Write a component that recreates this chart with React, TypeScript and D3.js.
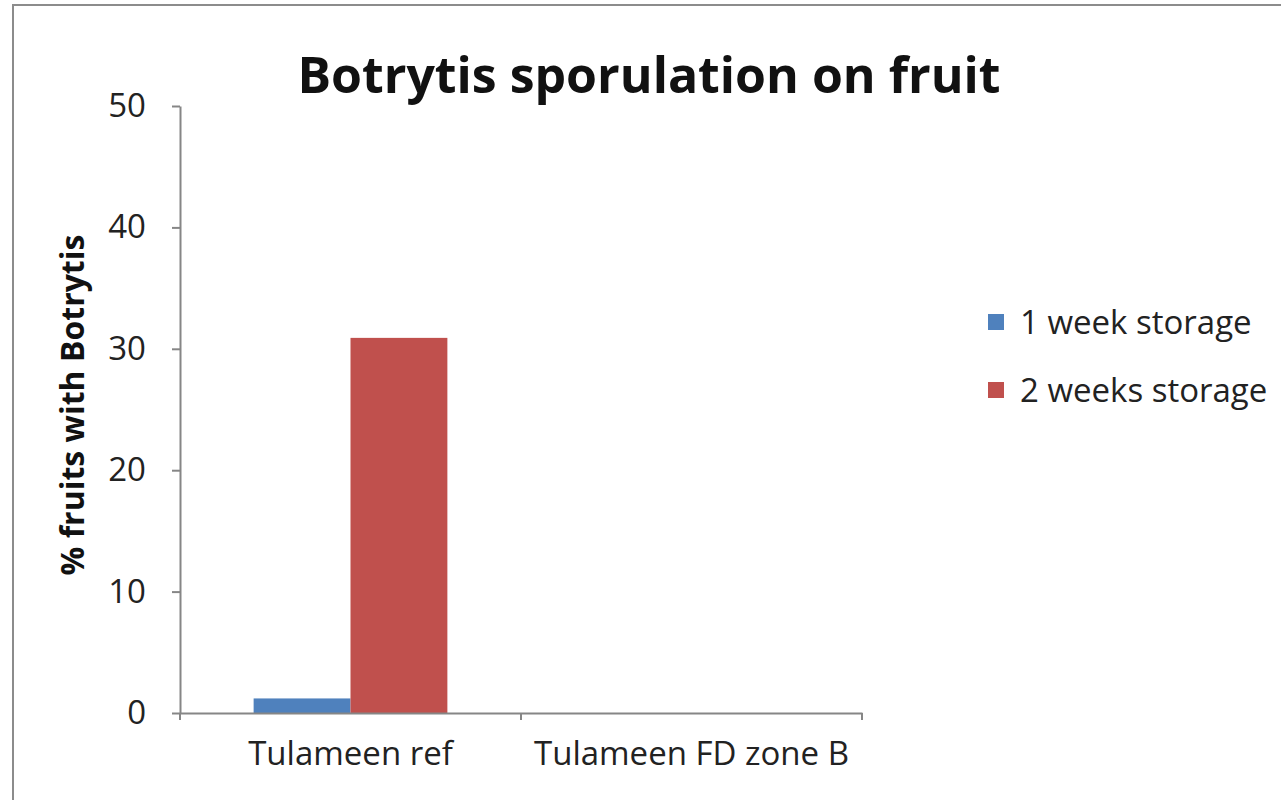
import React, { useRef, useEffect } from "react";
import * as d3 from "d3";

const categories = ["Tulameen ref", "Tulameen FD zone B"];
const seriesNames = ["1 week storage", "2 weeks storage"];
const oneWeek = [1.2, 0];
const twoWeeks = [30.9, 0];
const yTicks = [0, 10, 20, 30, 40, 50];
const colors = ["#4F81BD", "#C0504D"];

const App = () => {
  const svgRef = useRef<SVGSVGElement>(null);
  const W = 1281;
  const H = 800;

  useEffect(() => {
    const svg = d3.select(svgRef.current);
    svg.selectAll("*").remove();
    const font = "'Open Sans', sans-serif";

    // outer chart border (only top/left visible in crop)
    svg
      .append("rect")
      .attr("x", 13)
      .attr("y", 5)
      .attr("width", 1300)
      .attr("height", 820)
      .attr("fill", "#fff")
      .attr("stroke", "#8c8c8c")
      .attr("stroke-width", 2);

    const left = 180;
    const right = 862;
    const top = 106;
    const bottom = 713;

    const x0 = d3.scaleBand().domain(categories).range([left, right]).paddingInner(0).paddingOuter(0);
    const x1 = d3
      .scaleBand()
      .domain(seriesNames)
      .range([0, x0.bandwidth()])
      .paddingInner(0)
      .paddingOuter(0.76);
    const y = d3.scaleLinear().domain([0, 50]).range([bottom, top]);

    // bars
    const series = [oneWeek, twoWeeks];
    categories.forEach((c, ci) => {
      seriesNames.forEach((s, si) => {
        const v = series[si][ci];
        svg
          .append("rect")
          .attr("x", (x0(c) ?? 0) + (x1(s) ?? 0))
          .attr("y", y(v))
          .attr("width", x1.bandwidth())
          .attr("height", bottom - y(v))
          .attr("fill", colors[si]);
      });
    });

    // y axis
    const yAxis = d3
      .axisLeft(y)
      .tickValues(yTicks)
      .tickSize(8)
      .tickSizeOuter(0)
      .tickPadding(26)
      .tickFormat(d3.format("d"));
    const yg = svg.append("g").attr("transform", `translate(${left},0)`).call(yAxis);
    yg.select(".domain").attr("stroke", "#868686").attr("stroke-width", 2);
    yg.selectAll(".tick line").attr("stroke", "#868686").attr("stroke-width", 2);
    yg.selectAll(".tick text")
      .attr("font-family", font)
      .attr("font-size", 33)
      .attr("fill", "#222");

    // x axis
    const xAxis = d3.axisBottom(x0).tickSize(0).tickPadding(29);
    const xg = svg.append("g").attr("transform", `translate(0,${bottom})`).call(xAxis);
    xg.select(".domain").attr("stroke", "#868686").attr("stroke-width", 2);
    xg.selectAll(".tick text")
      .attr("font-family", font)
      .attr("font-size", 33)
      .attr("fill", "#222");
    // category boundary tick marks
    xg.selectAll(".bound")
      .data([left, right - x0.bandwidth(), right])
      .join("line")
      .attr("x1", (d) => d)
      .attr("x2", (d) => d)
      .attr("y1", 0)
      .attr("y2", 7)
      .attr("stroke", "#868686")
      .attr("stroke-width", 2);

    // title
    svg
      .append("text")
      .attr("x", 649)
      .attr("y", 93)
      .attr("text-anchor", "middle")
      .attr("font-family", font)
      .attr("font-weight", "bold")
      .attr("font-size", 50)
      .attr("fill", "#111")
      .text("Botrytis sporulation on fruit");

    // y axis title
    svg
      .append("text")
      .attr("transform", `translate(84,405) rotate(-90)`)
      .attr("text-anchor", "middle")
      .attr("font-family", font)
      .attr("font-weight", "bold")
      .attr("font-size", 32)
      .attr("fill", "#111")
      .text("% fruits with Botrytis");

    // legend
    const lg = svg.append("g").attr("transform", "translate(988,322)");
    seriesNames.forEach((s, i) => {
      lg.append("rect")
        .attr("x", 0)
        .attr("y", i * 68 - 8)
        .attr("width", 16)
        .attr("height", 16)
        .attr("fill", colors[i]);
      lg.append("text")
        .attr("x", 32)
        .attr("y", i * 68)
        .attr("dy", "0.35em")
        .attr("font-family", font)
        .attr("font-size", 33)
        .attr("fill", "#222")
        .text(s);
    });
  }, []);

  return (
    <div>
      <svg
        ref={svgRef}
        width={W}
        height={H}
        style={{ position: "absolute", left: 0, top: 0, background: "#fff" }}
      ></svg>
    </div>
  );
};

export default App;
